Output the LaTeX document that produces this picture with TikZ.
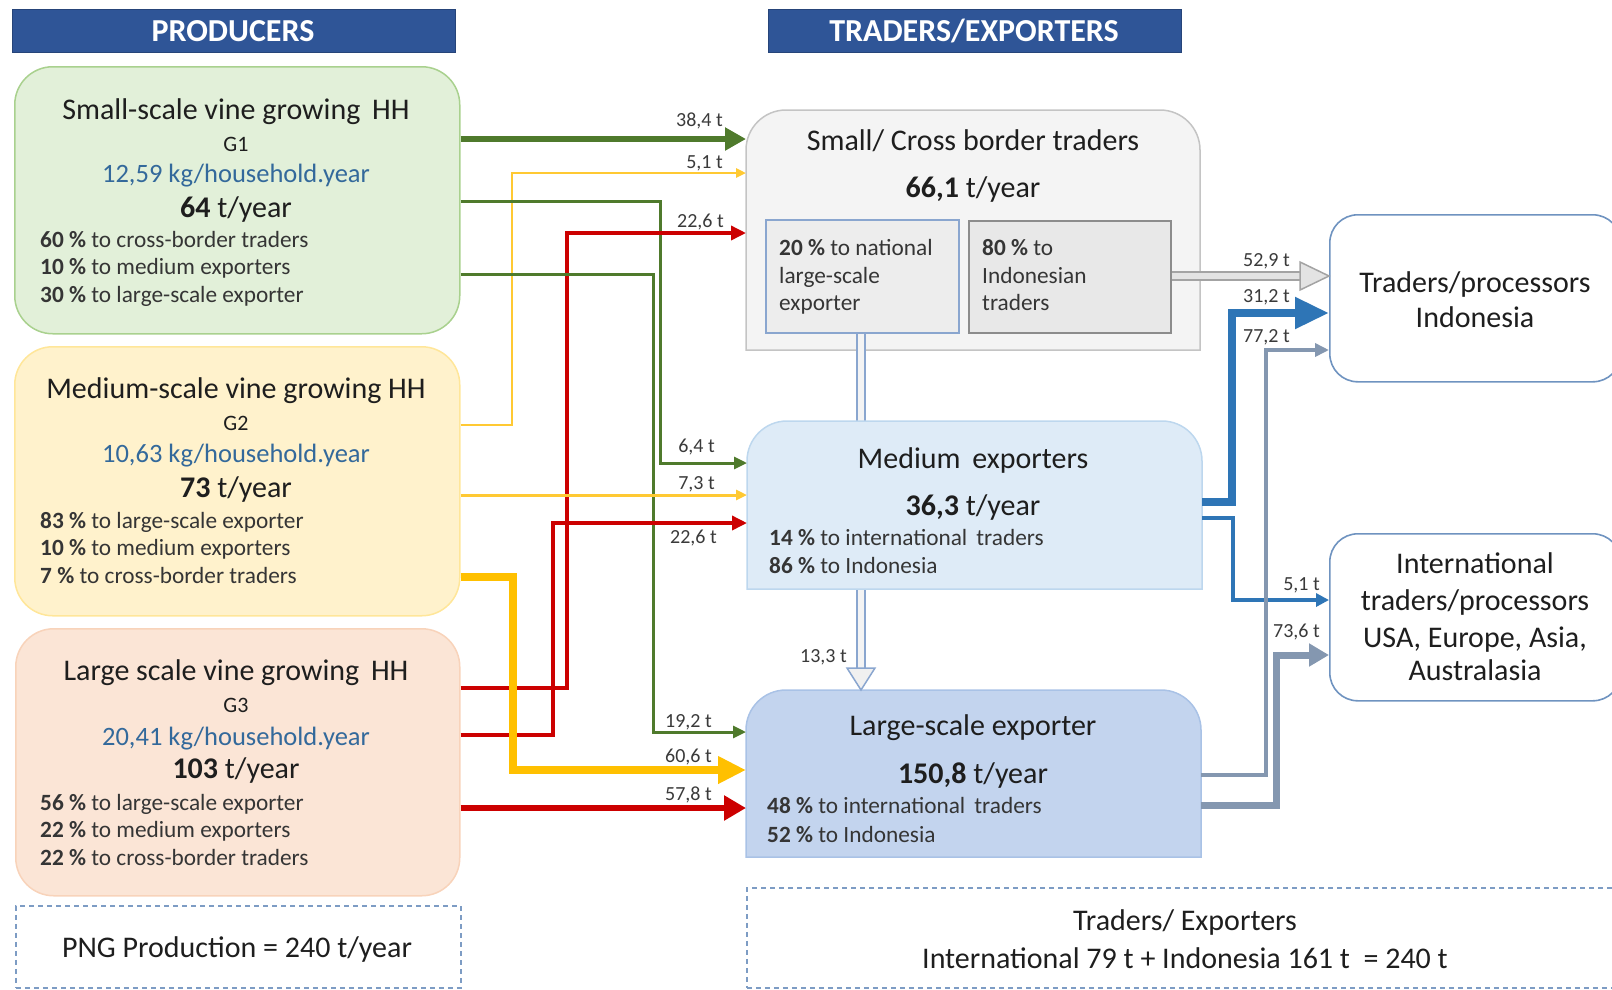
\documentclass[tikz,border=0pt]{standalone}
\usepackage{fontspec}
\setmainfont{Carlito}
\usetikzlibrary{arrows.meta}
\definecolor{hdr}{HTML}{2F5597}
\definecolor{gfill}{HTML}{E2F0D9}
\definecolor{gdraw}{HTML}{A9D18E}
\definecolor{yfill}{HTML}{FFF2CC}
\definecolor{ydraw}{HTML}{FFE699}
\definecolor{ofill}{HTML}{FBE5D6}
\definecolor{odraw}{HTML}{F8D3BA}
\definecolor{sfill}{HTML}{F4F4F4}
\definecolor{sdraw}{HTML}{C4C4C4}
\definecolor{mfill}{HTML}{DEEBF7}
\definecolor{mdraw}{HTML}{BDD7EE}
\definecolor{lfill}{HTML}{C3D4EE}
\definecolor{ldraw}{HTML}{A9C2E6}
\definecolor{rdraw}{HTML}{6F93C0}
\definecolor{dashc}{HTML}{7D9CC4}
\definecolor{kgblue}{HTML}{33699B}
\definecolor{txt}{HTML}{1E1E1E}
\definecolor{lblc}{HTML}{3A3A3A}
\definecolor{agreen}{HTML}{4F7A2C}
\definecolor{ared}{HTML}{CC0000}
\definecolor{ayel}{HTML}{FFC000}
\definecolor{ayelt}{HTML}{FFC933}
\definecolor{ablue}{HTML}{2E75B6}
\definecolor{agrb}{HTML}{8497B0}
\definecolor{hollowb}{HTML}{8AA6CF}
\definecolor{hollowg}{HTML}{A3A3A3}
\newcommand{\myfs}[1]{\fontsize{#1}{#1}\selectfont}
\begin{document}
\begin{tikzpicture}[x=1pt,y=-1pt,
  hdrbox/.style={fill=hdr, draw=hdr!80!black, line width=0.6pt, inner sep=0, anchor=north west},
  prodbox/.style={line width=1.5pt, rounded corners=38pt, inner sep=0, anchor=north west},
  ghost/.style={inner sep=0, anchor=north west},
  outbox/.style={draw=rdraw, fill=white, line width=1.6pt, rounded corners=28pt, inner sep=0, anchor=north west},
  hdrtxt/.style={inner sep=0, anchor=base, text=white, font=\myfs{32}\bfseries},
  ttl/.style={inner sep=0, anchor=base, text=txt, font=\myfs{30}},
  gtxt/.style={inner sep=0, anchor=base, text=txt, font=\myfs{22}},
  kgtxt/.style={inner sep=0, anchor=base, text=kgblue, font=\myfs{26.5}},
  pct/.style={inner sep=0, anchor=base west, text=txt!90, font=\myfs{23.3}},
  lbl/.style={inner sep=0, anchor=base east, text=lblc, font=\myfs{20}},
  dashbox/.style={draw=dashc, line width=1.5pt, dash pattern=on 5pt off 4pt, inner sep=0, anchor=north west},
  garrow/.style={draw=agreen, line width=#1},
  rarrow/.style={draw=ared, line width=#1},
  yarrow/.style={draw=ayel, line width=#1},
]
\useasboundingbox (0,0) rectangle (1612,989);
\clip (0,0) rectangle (1612,989);

% headers
\node[hdrbox, minimum width=443pt, minimum height=43pt] (hp) at (12,9) {};
\node[hdrtxt] (hpt) at (233,41) {PRODUCERS};
\node[hdrbox, minimum width=413pt, minimum height=43pt] (ht) at (768,9) {};
\node[hdrtxt] (htt) at (974,41) {TRADERS/EXPORTERS};

% producer boxes
\node[prodbox, draw=gdraw, fill=gfill, minimum width=445pt, minimum height=267pt] (g1) at (14,66) {};
\node[prodbox, draw=ydraw, fill=yfill, minimum width=445pt, minimum height=269pt] (g2) at (14,346) {};
\node[prodbox, draw=odraw, fill=ofill, minimum width=444pt, minimum height=267pt] (g3) at (15,628) {};

\node[ttl] (g1t) at (236,119) {Small-scale vine growing\, HH};
\node[gtxt] (g1g) at (236,151) {G1};
\node[kgtxt] (g1k) at (236,182) {12,59 kg/household.year};
\node[ttl] (g1y) at (236,217) {\textbf{64} t/year};
\node[pct] (g1a) at (40,247) {\textbf{60 \%} to cross-border traders};
\node[pct] (g1b) at (40,274) {\textbf{10 \%} to medium exporters};
\node[pct] (g1c) at (40,302) {\textbf{30 \%} to large-scale exporter};

\node[ttl] (g2t) at (236,398) {Medium-scale vine growing HH};
\node[gtxt] (g2g) at (236,430) {G2};
\node[kgtxt] (g2k) at (236,462) {10,63 kg/household.year};
\node[ttl] (g2y) at (236,497) {\textbf{73} t/year};
\node[pct] (g2a) at (40,528) {\textbf{83 \%} to large-scale exporter};
\node[pct] (g2b) at (40,555) {\textbf{10 \%} to medium exporters};
\node[pct] (g2c) at (40,583) {\textbf{7 \%} to cross-border traders};

\node[ttl] (g3t) at (236,680) {Large scale vine growing\, HH};
\node[gtxt] (g3g) at (236,712) {G3};
\node[kgtxt] (g3k) at (236,745) {20,41 kg/household.year};
\node[ttl] (g3y) at (236,778) {\textbf{103} t/year};
\node[pct] (g3a) at (40,810) {\textbf{56 \%} to large-scale exporter};
\node[pct] (g3b) at (40,837) {\textbf{22 \%} to medium exporters};
\node[pct] (g3c) at (40,865) {\textbf{22 \%} to cross-border traders};

% PNG production dashed box
\node[dashbox, minimum width=445pt, minimum height=82pt] (png) at (15,905) {};
\node[ttl] (pngt) at (237,957) {PNG Production = 240 t/year};

% small / cross border traders
\path[draw=sdraw, fill=sfill, line width=1.5pt] (746,350) -- (746,150) arc[start angle=180, end angle=90, radius=40pt] -- (1160,110) arc[start angle=90, end angle=0, radius=40pt] -- (1200,350) -- cycle;
\node[ghost, minimum width=454pt, minimum height=240pt] (sct) at (746,110) {};
\node[ttl] (sctt) at (973,150) {Small/ Cross border traders};
\node[ttl] (scty) at (973,197) {\textbf{66,1} t/year};
\node[draw=hollowb, fill=black!7, line width=1.5pt, inner sep=0, anchor=north west, minimum width=193pt, minimum height=113pt] (inl) at (765,219) {};
\node[draw=black!45, fill=black!9, line width=1.5pt, inner sep=0, anchor=north west, minimum width=202pt, minimum height=112pt] (inr) at (968,220) {};
\node[pct] (inl1) at (779,255) {\textbf{20 \%} to national};
\node[pct] (inl2) at (779,283) {large-scale};
\node[pct] (inl3) at (779,310) {exporter};
\node[pct] (inr1) at (982,255) {\textbf{80 \%} to};
\node[pct] (inr2) at (982,283) {Indonesian};
\node[pct] (inr3) at (982,310) {traders};

% hollow shaft from national share to large-scale exporter (behind medium box)
\coordinate (shaftend) at (861,668);
\draw[draw=hollowb, line width=1.8pt, double=sfill, double distance=5.5pt] (inl.south -| 861,0) -- (shaftend);

% medium exporters
\path[draw=mdraw, fill=mfill, line width=1.5pt] (747,589) -- (747,461) arc[start angle=180, end angle=90, radius=40pt] -- (1162,421) arc[start angle=90, end angle=0, radius=40pt] -- (1202,589) -- cycle;
\node[ghost, minimum width=455pt, minimum height=168pt] (med) at (747,421) {};
\node[ttl] (medt) at (973,468) {Medium\, exporters};
\node[ttl] (medy) at (973,515) {\textbf{36,3} t/year};
\node[pct] (meda) at (769,545) {\textbf{14 \%} to international\, traders};
\node[pct] (medb) at (769,573) {\textbf{86 \%} to Indonesia};

% large-scale exporter
\path[draw=ldraw, fill=lfill, line width=1.5pt] (746,857) -- (746,730) arc[start angle=180, end angle=90, radius=40pt] -- (1161,690) arc[start angle=90, end angle=0, radius=40pt] -- (1201,857) -- cycle;
\node[ghost, minimum width=455pt, minimum height=167pt] (lrg) at (746,690) {};
\node[ttl] (lrgt) at (973,735) {Large-scale exporter};
\node[ttl] (lrgy) at (973,783) {\textbf{150,8} t/year};
\node[pct] (lrga) at (767,813) {\textbf{48 \%} to international\, traders};
\node[pct] (lrgb) at (767,842) {\textbf{52 \%} to Indonesia};

% hollow arrow head 13,3 t
\path[draw=hollowb, fill=black!6, line width=1.5pt, line join=miter] (847,668) -- (875,668) -- (lrg.north -| 861,0) -- cycle;
\node[lbl] (l133) at (847,662) {13,3 t};

% outer destination boxes
\node[outbox, minimum width=291pt, minimum height=167pt] (ind) at (1329,214) {};
\node[ttl] (indt1) at (1475,292) {Traders/processors};
\node[ttl] (indt2) at (1475,327) {Indonesia};
\node[outbox, minimum width=291pt, minimum height=167pt] (int) at (1329,533) {};
\node[ttl] (intt1) at (1475,573) {International};
\node[ttl] (intt2) at (1475,610) {traders/processors};
\node[ttl] (intt3) at (1475,647) {USA, Europe, Asia,};
\node[ttl] (intt4) at (1475,680) {Australasia};

% bottom-right dashed summary
\node[dashbox, minimum width=900pt, minimum height=100pt] (sum) at (746,887) {};
\node[ttl] (sum1) at (1185,930) {Traders/ Exporters};
\node[ttl] (sum2) at (1185,968) {International 79 t + Indonesia 161 t\ \ = 240 t};

% ---------- producer -> trader arrows ----------
\draw[garrow=6pt, -{Triangle[length=21pt,width=22pt]}] (g1.east |- 0,139) -- (sct.west |- 0,139);
\node[lbl] (l384) at (723,126) {38,4 t};

\draw[draw=ayelt, line width=2.5pt, -{Triangle[length=10pt,width=9pt]}] (g2.east |- 0,425) -- (512,425) -- (512,173) -- (sct.west |- 0,173);
\node[lbl] (l51a) at (723,168) {5,1 t};

\draw[garrow=3pt, -{Triangle[length=13pt,width=12pt]}] (g1.east |- 0,201) -- (660,201) -- (660,463) -- (med.west |- 0,463);
\node[lbl] (l64) at (715,452) {6,4 t};

\draw[rarrow=3.5pt, -{Triangle[length=15pt,width=14pt]}] (g3.east |- 0,688) -- (567,688) -- (567,233) -- (sct.west |- 0,233);
\node[lbl] (l226a) at (724,227) {22,6 t};

\draw[garrow=3pt, -{Triangle[length=13pt,width=12pt]}] (g1.east |- 0,274) -- (653,274) -- (653,732) -- (lrg.west |- 0,732);
\node[lbl] (l192) at (712,727) {19,2 t};

\draw[rarrow=3.5pt, -{Triangle[length=15pt,width=14pt]}] (g3.east |- 0,735) -- (553,735) -- (553,523) -- (med.west |- 0,523);
\node[lbl] (l226b) at (717,543) {22,6 t};

\draw[draw=ayelt, line width=3pt, -{Triangle[length=11pt,width=10pt]}] (g2.east |- 0,495) -- (med.west |- 0,495);
\node[lbl] (l73) at (715,489) {7,3 t};

\draw[yarrow=7.5pt, -{Triangle[length=28pt,width=26pt]}] (g2.east |- 0,577) -- (513,577) -- (513,770) -- (lrg.west |- 0,770);
\node[lbl] (l606) at (712,762) {60,6 t};

\draw[rarrow=6pt, -{Triangle[length=22pt,width=24pt]}] (g3.east |- 0,808) -- (lrg.west |- 0,808);
\node[lbl] (l578) at (712,800) {57,8 t};

% ---------- trader -> destination arrows ----------
\coordinate (h529) at (1300,276);
\draw[draw=hollowg, line width=1.8pt, double=black!11, double distance=5.5pt] (inr.east |- 0,276) -- (h529);
\path[draw=hollowg, fill=black!11, line width=1.5pt, line join=miter] (1300,262) -- (ind.west |- 0,276) -- (1300,290) -- cycle;
\node[lbl] (l529) at (1290,266) {52,9 t};

\draw[draw=ablue, line width=8pt, -{Triangle[length=34pt,width=30pt]}] (med.east |- 0,502) -- (1232,502) -- (1232,313) -- (ind.west |- 0,313);
\node[lbl] (l312) at (1290,302) {31,2 t};

\draw[draw=ablue, line width=3.5pt, -{Triangle[length=13pt,width=13pt]}] (med.east |- 0,518) -- (1233,518) -- (1233,600) -- (int.west |- 0,600);
\node[lbl] (l51b) at (1320,590) {5,1 t};

\draw[draw=agrb, line width=4pt, -{Triangle[length=14pt,width=13pt]}] (lrg.east |- 0,775) -- (1266,775) -- (1266,350) -- (ind.west |- 0,350);
\node[lbl] (l772) at (1290,342) {77,2 t};

\draw[draw=agrb, line width=7pt, -{Triangle[length=20pt,width=22pt]}] (lrg.east |- 0,805) -- (1276,805) -- (1276,655) -- (int.west |- 0,655);
\node[lbl] (l736) at (1320,637) {73,6 t};
\end{tikzpicture}
\end{document}
